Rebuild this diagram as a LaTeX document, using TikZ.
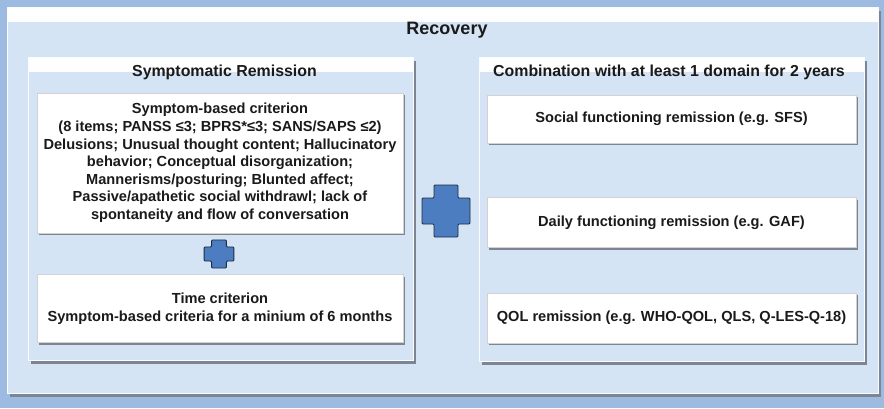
\documentclass[tikz,border=0pt]{standalone}
\usepackage{fontspec}
\setmainfont{Liberation Sans}
\usetikzlibrary{positioning, shadows}

\definecolor{bgblue}{HTML}{9DBAE0}
\definecolor{panelblue}{HTML}{D5E4F5}
\definecolor{plusblue}{HTML}{4B7DC0}
\definecolor{plusedge}{HTML}{1E2B45}
\definecolor{shadowgray}{HTML}{7D8592}
\definecolor{textdark}{HTML}{1A1A1A}

\newcommand{\boxwidth}{366pt}
\newcommand{\panelwidth}{385pt}

\tikzstyle{frame} = [% the large light blue panels
  rectangle,
  fill=panelblue,
  draw=white!85!panelblue,
  line width=0.6pt,
  drop shadow={shadow xshift=2.5pt, shadow yshift=-3.5pt, fill=shadowgray, opacity=1},
  path picture={\shade[top color=white, bottom color=panelblue]
    (path picture bounding box.north west) rectangle
    ([yshift=-14pt]path picture bounding box.north east);}
  ]
\tikzstyle{itembox} = [% white boxes holding the criteria
  rectangle,
  fill=white,
  draw=gray!35,
  line width=0.5pt,
  drop shadow={shadow xshift=1.5pt, shadow yshift=-2pt, fill=shadowgray, opacity=1},
  text=textdark,
  align=center,
  font=\fontsize{14.6}{17.6}\selectfont\bfseries
  ]
\tikzstyle{title} = [% panel headings
  inner sep=0pt,
  text=textdark,
  font=\fontsize{15.9}{18}\selectfont\bfseries
  ]
\tikzstyle{plus} = [% the blue plus signs
  fill=plusblue,
  draw=plusedge,
  line width=0.9pt,
  rounded corners=1pt
  ]

\begin{document}
\begin{tikzpicture}[x=1pt, y=-1pt]
\useasboundingbox[fill=bgblue] (0,0) rectangle (884,408);

%%% Panels
\node[frame, minimum width=871pt, minimum height=386pt] (recovery) at (442.5,200) {};
\node[title, font=\fontsize{18}{20}\selectfont\bfseries] (recoverytitle) at (447,30) {Recovery};

\node[frame, minimum width=\panelwidth, minimum height=303pt] (symptomatic) at (220.5,208.5) {};
\node[title] (symptomatictitle) at (224.5,72) {Symptomatic Remission};

\node[frame, minimum width=\panelwidth, minimum height=304pt] (combination) at (671.5,209) {};
\node[title] (combinationtitle) at (669,72) {Combination with at least 1 domain for 2 years};

%%% Left column
\node[itembox, minimum width=\boxwidth, minimum height=140pt] (symptom) at (220,163)
  {Symptom-based criterion\\
   (8 items; PANSS ≤3; BPRS*≤3; SANS/SAPS ≤2)\\
   Delusions; Unusual thought content; Hallucinatory\\
   behavior; Conceptual disorganization;\\
   Mannerisms/posturing; Blunted affect;\\
   Passive/apathetic social withdrawl; lack of\\
   spontaneity and flow of conversation};
\node[itembox, minimum width=\boxwidth, minimum height=68pt] (time) [below=41pt of symptom]
  {Time criterion\\Symptom-based criteria for a minium of 6 months};

%%% Right column
\node[itembox, minimum width=369pt, minimum height=48pt] (social) at (671.5,119)
  {Social functioning remission (e.g. SFS)};
\node[itembox, minimum width=369pt, minimum height=50pt] (daily) [below=54pt of social]
  {Daily functioning remission (e.g. GAF)};
\node[itembox, minimum width=369pt, minimum height=50pt] (qol) [below=45pt of daily]
  {QOL remission (e.g. WHO-QOL, QLS, Q-LES-Q-18)};

%%% Plus signs
\draw[plus, shift={(446,211)}]
  (-12,-26) -- (12,-26) -- (12,-13) -- (24,-13) -- (24,13) -- (12,13)
  -- (12,26) -- (-12,26) -- (-12,13) -- (-24,13) -- (-24,-13) -- (-12,-13) -- cycle;
\draw[plus, shift={(219,254)}, xscale=0.62, yscale=0.54]
  (-12,-26) -- (12,-26) -- (12,-13) -- (24,-13) -- (24,13) -- (12,13)
  -- (12,26) -- (-12,26) -- (-12,13) -- (-24,13) -- (-24,-13) -- (-12,-13) -- cycle;

\end{tikzpicture}
\end{document}
